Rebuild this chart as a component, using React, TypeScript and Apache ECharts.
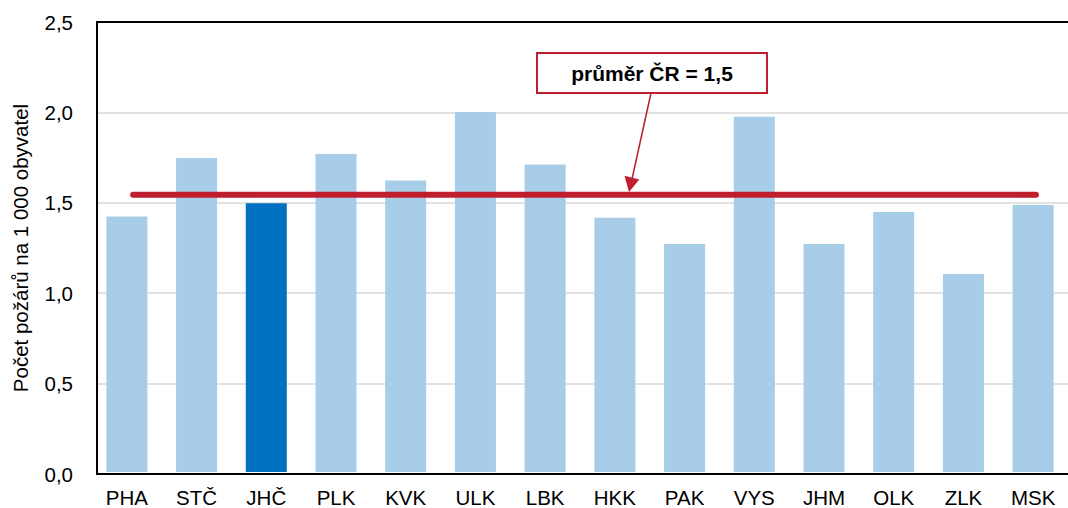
import React, { useEffect, useRef } from "react";
import * as echarts from "echarts";

const categories = ["PHA", "STČ", "JHČ", "PLK", "KVK", "ULK", "LBK", "HKK", "PAK", "VYS", "JHM", "OLK", "ZLK", "MSK"];
const values = [1.42, 1.745, 1.493, 1.767, 1.62, 2.0, 1.709, 1.413, 1.267, 1.973, 1.267, 1.444, 1.1, 1.484];
const highlighted = "JHČ";
const averageValue = 1.54;
const averageLabel = "průměr ČR = 1,5";
const averageSpan = [0.09, 13.04];
const yTicks = { min: 0, max: 2.5, interval: 0.5 };
const yTitle = "Počet požárů na 1 000 obyvatel";

const FONT = "'Liberation Sans', Arial, sans-serif";
const RED = "#be1e2d";

export default function App() {
  const ref = useRef<HTMLDivElement>(null);
  useEffect(() => {
    if (!ref.current) return;
    const chart = echarts.init(ref.current, null, { renderer: "svg" });
    const fmt = (v: number) => v.toFixed(1).replace(".", ",");
    chart.setOption({
      animation: false,
      backgroundColor: "#ffffff",
      textStyle: { fontFamily: FONT },
      grid: [
        { left: 97, top: 22, width: 971, height: 452, containLabel: false },
        { left: 92, top: 22, width: 979, height: 452, containLabel: false },
      ],
      xAxis: [
        {
          gridIndex: 0, type: "value", position: "top", min: 0, max: 1,
          axisLine: { show: true, onZero: false, lineStyle: { color: "#000", width: 2 } },
          axisTick: { show: false }, axisLabel: { show: false }, splitLine: { show: false },
        },
        {
          gridIndex: 0, type: "value", position: "bottom", min: 0, max: 1,
          axisLine: { show: true, onZero: false, lineStyle: { color: "#000", width: 2 } },
          axisTick: { show: false }, axisLabel: { show: false }, splitLine: { show: false },
        },
        {
          gridIndex: 1, type: "category", data: categories, position: "bottom",
          axisLine: { show: false }, axisTick: { show: false },
          axisLabel: { color: "#000", fontSize: 20.5, fontFamily: FONT, margin: 15, interval: 0 },
          splitLine: { show: false },
        },
        {
          gridIndex: 1, type: "value", min: -0.5, max: 13.5, show: false,
        },
      ],
      yAxis: [
        {
          gridIndex: 0, type: "value", min: yTicks.min, max: yTicks.max, interval: yTicks.interval,
          axisLine: { show: true, onZero: false, lineStyle: { color: "#000", width: 2 } },
          axisTick: { show: false },
          axisLabel: { color: "#000", fontSize: 20.5, fontFamily: FONT, margin: 24, formatter: fmt },
          splitLine: { show: true, lineStyle: { color: "#d9d9d9", width: 1.5 } },
          name: yTitle, nameLocation: "middle", nameGap: 66, nameRotate: 90,
          nameTextStyle: { color: "#000", fontSize: 20.5, fontFamily: FONT },
        },
        {
          gridIndex: 1, type: "value", min: yTicks.min, max: yTicks.max, show: false,
        },
      ],
      series: [
        {
          type: "bar", xAxisIndex: 2, yAxisIndex: 1, barWidth: 41,
          data: categories.map((c, i) => ({
            value: values[i],
            itemStyle: { color: c === highlighted ? "#0070c0" : "#a7cde8" },
          })),
          z: 2,
        },
        {
          type: "line", xAxisIndex: 3, yAxisIndex: 1, symbol: "none",
          data: averageSpan.map((x) => [x, averageValue]),
          lineStyle: { color: RED, width: 6, cap: "round" },
          z: 3,
        },
      ],
      graphic: [
        {
          type: "line", z: 10,
          shape: { x1: 651, y1: 93, x2: 632, y2: 179 },
          style: { stroke: RED, lineWidth: 1.5 },
        },
        {
          type: "polygon", z: 10,
          shape: { points: [[629, 192], [639.3, 179.5], [624.5, 175.8]] },
          style: { fill: RED },
        },
        {
          type: "rect", z: 10,
          shape: { x: 537, y: 53, width: 230, height: 40 },
          style: { fill: "#fff", stroke: RED, lineWidth: 2 },
        },
        {
          type: "text", z: 11, x: 652, y: 73,
          style: {
            text: averageLabel, fill: "#000", font: `bold 21px ${FONT}`,
            align: "center", verticalAlign: "middle",
          },
        },
      ],
    });
    return () => chart.dispose();
  }, []);
  return <div ref={ref} style={{ position: "fixed", left: 0, top: 0, width: 1068, height: 508 }} />;
}
